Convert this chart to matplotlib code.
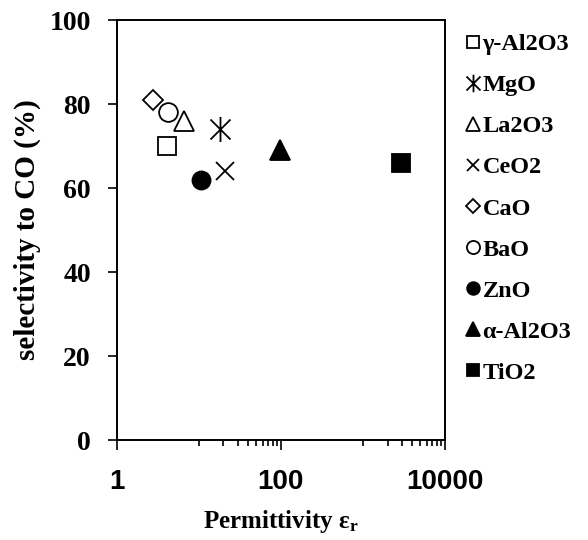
import matplotlib
matplotlib.use("Agg")
import matplotlib.pyplot as plt
from matplotlib.path import Path
from matplotlib.ticker import FixedLocator, NullFormatter

# catalyst supports: relative permittivity vs CO selectivity
materials = ['γ-Al2O3', 'MgO', 'La2O3', 'CeO2', 'CaO', 'BaO', 'ZnO', 'α-Al2O3', 'TiO2']
permittivity = [4.1, 18.2, 6.6, 21, 2.8, 4.2, 10.7, 98, 2920]
selectivity = [70, 74, 76, 64, 81, 78, 62, 69, 66]

# asterisk marker: vertical bar plus an x
star = Path([(0, -1), (0, 1), (-0.8, -0.8), (0.8, 0.8), (-0.8, 0.8), (0.8, -0.8)],
            [Path.MOVETO, Path.LINETO, Path.MOVETO, Path.LINETO, Path.MOVETO, Path.LINETO])

styles = [
    dict(marker='s', ms=13, mfc='white'),
    dict(marker=star, ms=18, mfc='none'),
    dict(marker='^', ms=14, mfc='white'),
    dict(marker='x', ms=13, mfc='none'),
    dict(marker='D', ms=10.5, mfc='white'),
    dict(marker='o', ms=13.5, mfc='white'),
    dict(marker='o', ms=13, mfc='black'),
    dict(marker='^', ms=14, mfc='black'),
    dict(marker='s', ms=13, mfc='black'),
]

serif = 'Liberation Serif'

fig = plt.figure(figsize=(5.88, 5.4), dpi=100)
ax = fig.add_axes([116.5 / 588, 1 - 440 / 540, (445 - 116.5) / 588, 420 / 540])

for name, x, y, st in zip(materials, permittivity, selectivity, styles):
    ax.plot([x], [y], linestyle='none', mec='black', mew=1.3, label=name, **st)

ax.set_xscale('log')
ax.set_xlim(1, 10000)
ax.set_ylim(0, 100)

ax.xaxis.set_major_locator(FixedLocator([1, 100, 10000]))
ax.set_xticklabels(['1', '100', '10000'], fontfamily='Liberation Sans',
                   fontweight='bold', fontsize=20)
minor = [10 * k for k in range(1, 10)] + [1000 * k for k in range(1, 10)]
ax.xaxis.set_minor_locator(FixedLocator(minor))
ax.xaxis.set_minor_formatter(NullFormatter())

ax.set_yticks([0, 20, 40, 60, 80, 100])
ax.set_yticklabels(['0', '20', '40', '60', '80', '100'], fontfamily=serif,
                   fontweight='bold', fontsize=20)
ax.yaxis.set_minor_locator(FixedLocator([]))

ax.tick_params(axis='x', which='major', direction='out', length=7, width=1.2, pad=14)
ax.tick_params(axis='x', which='minor', direction='out', length=4.5, width=1.2)
ax.tick_params(axis='y', which='major', direction='out', length=6.5, width=1.2, pad=12)

for sp in ax.spines.values():
    sp.set_linewidth(1.4)

ax.set_ylabel('selectivity to CO (%)', fontfamily=serif, fontweight='bold',
              fontsize=21, labelpad=6)
ax.set_xlabel(r'Permittivity ε$\mathregular{_r}$', fontfamily=serif,
              fontweight='bold', fontsize=18, labelpad=9)

ax.legend(loc='upper left', bbox_to_anchor=(454 / 588, 1 - 21 / 540),
          bbox_transform=fig.transFigure, frameon=False, markerscale=0.7,
          handlelength=0.6, handletextpad=0.07, labelspacing=0.785, borderpad=0,
          prop=dict(family=serif, weight='bold', size=17.5))

fig.savefig('out.png', dpi=100)
